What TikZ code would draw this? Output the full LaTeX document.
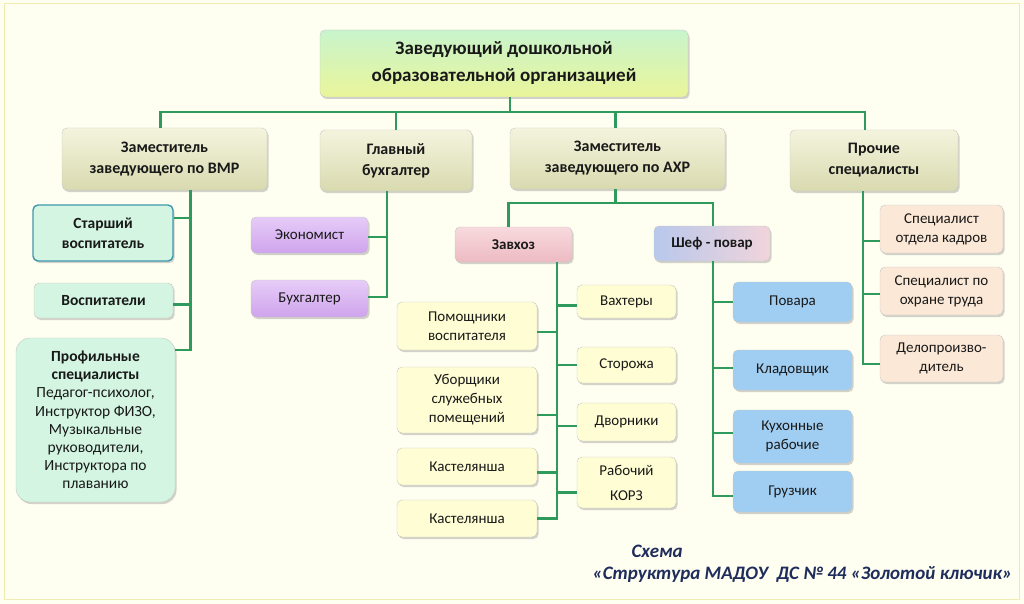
\documentclass[tikz,border=0pt]{standalone}
\usepackage{fontspec}
\setmainfont{Carlito}
\usetikzlibrary{shadows}
\definecolor{linkgreen}{HTML}{2E9A5C}
\definecolor{pagebg}{HTML}{FEFEF1}
\definecolor{titleblue}{HTML}{1F2D5C}
\definecolor{headtop}{HTML}{C8F4CC}
\definecolor{headbot}{HTML}{EAF59A}
\definecolor{deptop}{HTML}{F4F4DE}
\definecolor{depbot}{HTML}{D9DAAF}
\definecolor{mintfill}{HTML}{D3F5E1}
\definecolor{mintedge}{HTML}{3F98AD}
\definecolor{violtop}{HTML}{E6CCF8}
\definecolor{violbot}{HTML}{CFA4EC}
\definecolor{pinktop}{HTML}{F8DADE}
\definecolor{pinkbot}{HTML}{EDBAC2}
\definecolor{chefleft}{HTML}{B8C8EC}
\definecolor{chefright}{HTML}{F1D4DB}
\definecolor{creamfill}{HTML}{FFFDD3}
\definecolor{bluefill}{HTML}{A0CDF2}
\definecolor{peachfill}{HTML}{FBE8D6}
\tikzset{
  box/.style={rounded corners=5pt, draw=black!22, align=center, inner sep=2pt,
    font=\fontsize{15}{19}\selectfont, text=black!90,
    drop shadow={shadow xshift=1.5pt, shadow yshift=-2pt, opacity=0.35}},
  chief/.style={box, top color=headtop, bottom color=headbot, font=\bfseries\fontsize{19}{27}\selectfont},
  deputy/.style={box, top color=deptop, bottom color=depbot, font=\bfseries\fontsize{16}{21}\selectfont},
  mint/.style={box, fill=mintfill, font=\bfseries\fontsize{15.5}{20}\selectfont},
  violet/.style={box, top color=violtop, bottom color=violbot},
  pinkbox/.style={box, top color=pinktop, bottom color=pinkbot, font=\bfseries\fontsize{15}{19}\selectfont},
  chefbox/.style={box, left color=chefleft, right color=chefright, font=\bfseries\fontsize{15}{19}\selectfont},
  cream/.style={box, fill=creamfill},
  bluebox/.style={box, fill=bluefill},
  peach/.style={box, fill=peachfill},
  link/.style={draw=linkgreen, line width=2.4pt}
}
\begin{document}
\begin{tikzpicture}[x=1pt, y=-1pt]
  \fill[pagebg] (0,0) rectangle (1024,604);
  \draw[yellow!40!olive!25!white, line width=1pt] (4,4) rectangle (1019,599);
  \useasboundingbox (0,0) rectangle (1024,604);

  % top
  \node[chief, minimum width=368, minimum height=67] (head) at (504,63.5) {Заведующий дошкольной\\образовательной организацией};
  \coordinate (bus) at (510,112);

  % deputies
  \node[deputy, minimum width=205, minimum height=62] (vmr) at (164.5,159) {Заместитель\\заведующего по ВМР};
  \node[deputy, minimum width=152, minimum height=61] (glav) at (396,160.5) {Главный\\бухгалтер};
  \node[deputy, minimum width=215, minimum height=61] (axr) at (617.5,158.5) {Заместитель\\заведующего по АХР};
  \node[deputy, minimum width=168, minimum height=61] (proch) at (874,160.5) {Прочие\\специалисты};

  \draw[link] (head.south -| bus) -- (bus);
  \draw[link] ([xshift=-4]vmr.north) |- (bus) -| ([xshift=-9]proch.north);
  \draw[link] (glav.north) -- (glav.north |- bus);
  \draw[link] ([xshift=-2]axr.north) -- ([xshift=-2]axr.north |- bus);

  % ВМР
  \node[mint, draw=mintedge, line width=1.4pt, minimum width=140, minimum height=56] (star) at (103,233) {Старший\\воспитатель};
  \node[mint, minimum width=139, minimum height=35] (vosp) at (103.5,300.5) {Воспитатели};
  \node[mint, rounded corners=14pt, minimum width=159, minimum height=164,
    font=\fontsize{15.5}{18.2}\selectfont] (prof) at (95.5,420)
    {\textbf{Профильные}\\\textbf{специалисты}\\Педагог-психолог,\\Инструктор ФИЗО,\\Музыкальные\\руководители,\\Инструктора по\\плаванию};
  \draw[link] ([yshift=15]star.east) -| ([xshift=26]vmr.south);
  \draw[link] ([yshift=-4]vosp.east) -| ([xshift=26]vmr.south);
  \draw[link] ([yshift=-12]prof.north east) -| ([xshift=26]vmr.south);

  % бухгалтерия
  \node[violet, minimum width=117, minimum height=36] (eko) at (309.5,235) {Экономист};
  \node[violet, minimum width=117, minimum height=37] (buh) at (309.5,298.5) {Бухгалтер};
  \draw[link] ([yshift=-2]eko.east) -| ([xshift=-9]glav.south);
  \draw[link] ([yshift=1.5]buh.east) -| ([xshift=-9]glav.south);

  % АХР
  \coordinate (bus2) at (615,203);
  \node[pinkbox, minimum width=117, minimum height=35] (zavhoz) at (513.5,244.5) {Завхоз};
  \node[chefbox, minimum width=116, minimum height=35] (chef) at (712,243.5) {Шеф - повар};
  \draw[link] ([xshift=-2]axr.south) -- ([xshift=-2]axr.south |- bus2);
  \draw[link] ([xshift=-5]zavhoz.north) |- (bus2) -| ([xshift=1]chef.north);

  % завхоз
  \node[cream, minimum width=140, minimum height=48] (pom) at (467,326) {Помощники\\воспитателя};
  \node[cream, minimum width=140, minimum height=66] (ubor) at (467,400) {Уборщики\\служебных\\помещений};
  \node[cream, minimum width=140, minimum height=37] (kast1) at (467,466.5) {Кастелянша};
  \node[cream, minimum width=140, minimum height=37] (kast2) at (467,518.5) {Кастелянша};
  \node[cream, minimum width=99, minimum height=33] (vaht) at (626.5,301.5) {Вахтеры};
  \node[cream, minimum width=99, minimum height=36] (stor) at (626.5,365) {Сторожа};
  \node[cream, minimum width=99, minimum height=38] (dvor) at (626.5,422) {Дворники};
  \node[cream, minimum width=99, minimum height=51, font=\fontsize{15}{25}\selectfont] (korz) at (626.5,482.5) {Рабочий\\КОРЗ};
  \draw[link] ([yshift=-6]pom.east) -| ([xshift=43.5]zavhoz.south);
  \draw[link] ([yshift=-15]ubor.east) -| ([xshift=43.5]zavhoz.south);
  \draw[link] ([yshift=-6]kast1.east) -| ([xshift=43.5]zavhoz.south);
  \draw[link] (kast2.east) -| ([xshift=43.5]zavhoz.south);
  \draw[link] ([yshift=-4]vaht.west) -| ([xshift=43.5]zavhoz.south);
  \draw[link] (stor.west) -| ([xshift=43.5]zavhoz.south);
  \draw[link] ([yshift=-4]dvor.west) -| ([xshift=43.5]zavhoz.south);
  \draw[link] ([yshift=-10]korz.west) -| ([xshift=43.5]zavhoz.south);

  % шеф-повар
  \node[bluebox, minimum width=119, minimum height=40] (povar) at (792.5,302) {Повара};
  \node[bluebox, minimum width=119, minimum height=40] (klad) at (792.5,370) {Кладовщик};
  \node[bluebox, minimum width=119, minimum height=53] (kuhn) at (792.5,436.5) {Кухонные\\рабочие};
  \node[bluebox, minimum width=119, minimum height=41] (gruz) at (792.5,491.5) {Грузчик};
  \draw[link] (povar.west) -| ([xshift=1]chef.south);
  \draw[link] ([yshift=2]klad.west) -| ([xshift=1]chef.south);
  \draw[link] ([yshift=3.5]kuhn.west) -| ([xshift=1]chef.south);
  \draw[link] ([yshift=-4.5]gruz.west) -| ([xshift=1]chef.south);

  % прочие
  \node[peach, minimum width=123, minimum height=48] (kadr) at (941.5,229) {Специалист\\отдела кадров};
  \node[peach, minimum width=123, minimum height=48] (ohr) at (941.5,291) {Специалист по\\охране труда};
  \node[peach, minimum width=123, minimum height=47] (delo) at (941.5,358.5) {Делопроизво-\\дитель};
  \draw[link] ([yshift=-12]kadr.west) -| ([xshift=-11]proch.south);
  \draw[link] ([yshift=-3]ohr.west) -| ([xshift=-11]proch.south);
  \draw[link] ([yshift=-5.5]delo.west) -| ([xshift=-11]proch.south);

  % подпись
  \node[anchor=west, text=titleblue, font=\bfseries\itshape\fontsize{19}{22}\selectfont] (cap1) at (628,551) {Схема};
  \node[anchor=west, text=titleblue, font=\bfseries\itshape\fontsize{19}{22}\selectfont] (cap2) at (589,575) {«Структура МАДОУ\ \ ДС №~44 «Золотой ключик»};
\end{tikzpicture}
\end{document}
